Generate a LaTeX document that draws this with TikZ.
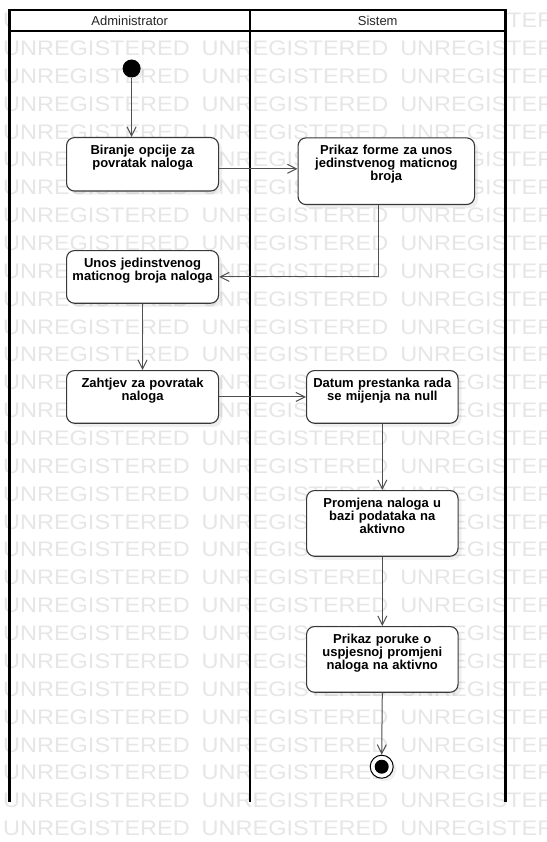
\documentclass[tikz,border=0pt]{standalone}
\usepackage{fontspec}
\setmainfont{Liberation Sans}
\usetikzlibrary{arrows.meta,shadows,calc}
\definecolor{wmgray}{HTML}{E6E6E6}
\definecolor{edgec}{HTML}{383838}
\definecolor{flowc}{HTML}{505050}
\begin{document}
\begin{tikzpicture}[x=1pt,y=-1pt,
  lane/.style={line width=2.2pt, draw=black, line join=miter},
  act/.style={draw=edgec, fill=white, line width=1.1pt, rounded corners=8pt,
    inner sep=0pt, align=center, anchor=north west, text height=17pt,
    font=\fontsize{13}{12.8}\selectfont\bfseries,
    drop shadow={shadow xshift=3.5pt, shadow yshift=-3.5pt, opacity=0.12}},
  flow/.style={draw=flowc, line width=1pt, -{Straight Barb[length=9pt,width=9pt]}},
  wm/.style={anchor=base west, inner sep=0pt, text=wmgray, font=\fontsize{21}{21}\selectfont},
  hdr/.style={font=\fontsize{13}{13}\selectfont, text=black!85, inner sep=0pt},
  startnode/.style={circle, fill=black, minimum size=18pt, inner sep=0pt,
    drop shadow={shadow xshift=3pt, shadow yshift=-3pt, opacity=0.12}},
  endnode/.style={circle, draw=black, line width=1pt, fill=white, minimum size=23pt, inner sep=0pt,
    drop shadow={shadow xshift=3pt, shadow yshift=-3pt, opacity=0.12},
    path picture={\fill[black] (path picture bounding box.center) circle (7pt);}}
]
\useasboundingbox (0,0) rectangle (546,842);
\fill[white] (0,0) rectangle (546,842);
% watermark
\begin{scope}
\clip (0,0) rectangle (546,842);
\foreach \k in {-1,...,28} {
  \node[wm] (wm\k) at (3, {55.5+27.86*\k})
    {\scalebox{1.118}[1]{UNREGISTERED}\hspace{12pt}\scalebox{1.118}[1]{UNREGISTERED}\hspace{12pt}\scalebox{1.118}[1]{UNREGISTERED}};
}
\end{scope}
% swimlanes
\fill[white] (9.5,10) rectangle (505.5,31);
\draw[lane] (9.5,801.5) -- (9.5,10) -- (505.5,10) -- (505.5,801.5);
\draw[lane] (9.5,31) -- (505.5,31);
\draw[lane] (250,10) -- (250,801.5);
\node[hdr] (hA) at (129.7,20.5) {Administrator};
\node[hdr] (hS) at (377.7,20.5) {Sistem};
% nodes
\node[startnode] (init) at (131.6,68.5) {};
\node[act, text width=152pt, text depth=36.5pt] (b1) at (66,137) {Biranje opcije za\\povratak naloga};
\node[act, text width=176.5pt, text depth=49.7pt] (b2) at (297.5,137.3) {Prikaz forme za unos\\jedinstvenog maticnog\\broja};
\node[act, text width=152pt, text depth=35.7pt] (b3) at (66,250) {Unos jedinstvenog\\maticnog broja naloga};
\node[act, text width=152pt, text depth=35.7pt] (b4) at (66,370) {Zahtjev za povratak\\naloga};
\node[act, text width=151.5pt, text depth=35.7pt] (b5) at (306,370) {Datum prestanka rada\\se mijenja na null};
\node[act, text width=151.5pt, text depth=48.7pt] (b6) at (306,490) {Promjena naloga u\\bazi podataka na\\aktivno};
\node[act, text width=151.5pt, text depth=48.7pt] (b7) at (306,626) {Prikaz poruke o\\uspjesnoj promjeni\\naloga na aktivno};
\node[endnode] (fin) at (381.7,766.7) {};
% connectors
\draw[flow] (init) -- (init |- b1.north);
\draw[flow] ([yshift=-4.5pt]b1.east) -- ([yshift=-4.5pt]b1.east -| b2.west);
\draw[flow] ([xshift=-7.8pt]b2.south) |- (b3.east);
\draw[flow] (b3.south) -- (b4.north);
\draw[flow] (b4.east) -- (b5.west);
\draw[flow] (b5.south) -- (b6.north);
\draw[flow] (b6.south) -- (b7.north);
\draw[flow] (b7.south) -- (fin.north);
\end{tikzpicture}
\end{document}
